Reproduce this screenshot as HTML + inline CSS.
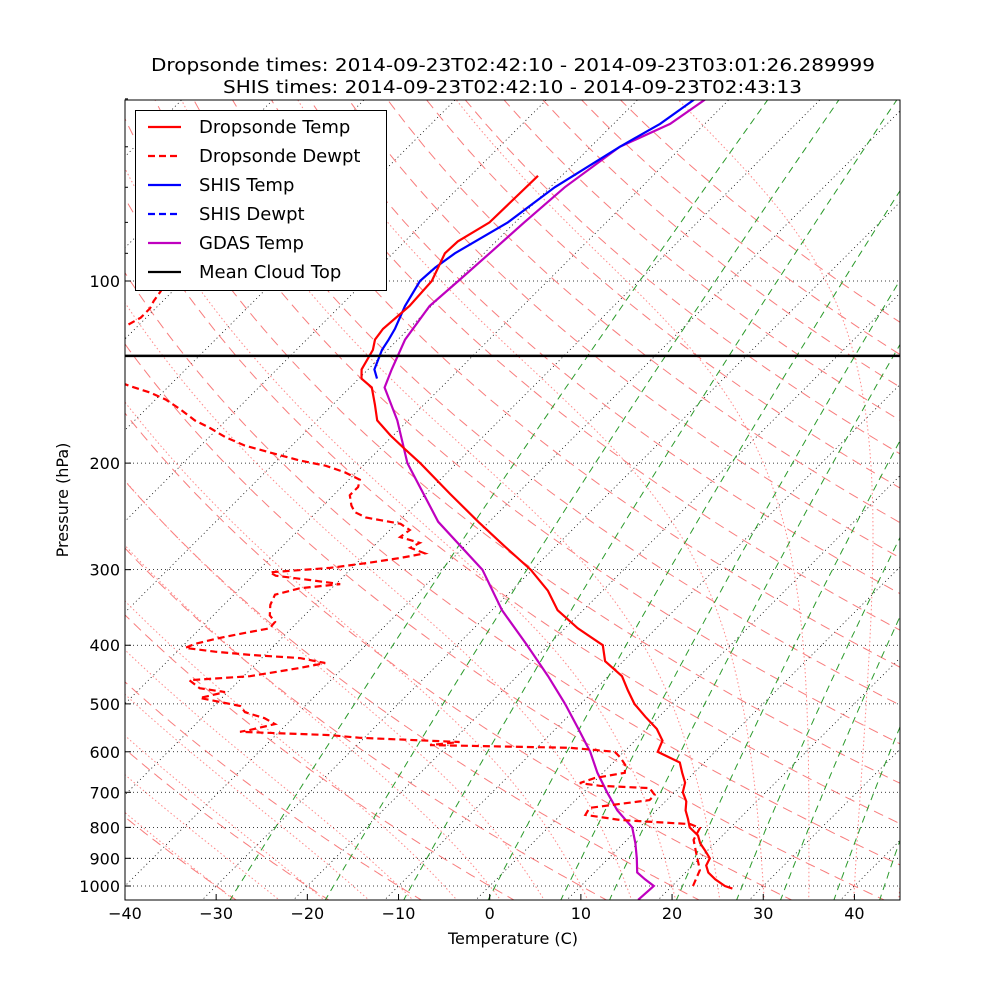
<!DOCTYPE html>
<html><head><meta charset="utf-8"><style>
body{margin:0;background:#fff;}
svg{display:block;font-family:"DejaVu Sans","Liberation Sans",sans-serif;}
</style></head><body>
<svg id="chart" width="1000" height="1000" viewBox="0 0 1000 1000">
<defs><clipPath id="clip"><rect x="125" y="100" width="775" height="800"/></clipPath></defs>
<rect width="1000" height="1000" fill="#fff"/>
<g id="bg" clip-path="url(#clip)"></g>
<g id="series" clip-path="url(#clip)"></g>
<rect x="125" y="100" width="775" height="800" fill="none" stroke="#000" stroke-width="1"/>
<g id="axes"></g>
<text x="151" y="71" font-size="18" textLength="724" lengthAdjust="spacingAndGlyphs">Dropsonde times: 2014-09-23T02:42:10 - 2014-09-23T03:01:26.289999</text>
<text x="223" y="93" font-size="18" textLength="579" lengthAdjust="spacingAndGlyphs">SHIS times: 2014-09-23T02:42:10 - 2014-09-23T02:43:13</text>
<text x="513" y="944" font-size="16" text-anchor="middle">Temperature (C)</text>
<text x="68" y="500" font-size="16" text-anchor="middle" transform="rotate(-90 68 500)">Pressure (hPa)</text>
<g id="legend"></g>
</svg>
<script>
const sondeP=[1010,1000,975,950,925,900,875,850,825,800,775,750,725,700,675,650,625,600,575,550,525,500,475,450,425,400,375,350,325,300,275,250,225,200,190,180,170,160,150,145,140,130,125,120,110,100,90,86,80,67];
const sondeT=[26.9,25.8,24.0,22.5,21.5,21.1,19.8,18.4,17.3,15.5,14.4,13.2,12.3,10.9,10.1,8.7,7.3,3.7,3.0,1.1,-1.5,-4.1,-6.3,-8.5,-12.0,-14.0,-18.6,-22.8,-26.0,-30.2,-35.5,-41.2,-47.3,-54.0,-57.1,-60.3,-63.4,-65.4,-67.6,-69.7,-70.7,-71.6,-72.5,-72.8,-72.4,-72.7,-74.3,-74.2,-72.8,-72.6];
const dewP=[1000,941,889,839,802,790,778,763,743,721,707,689,683,676,663,650,631,614,600,591,585,578,569,563,556,552,540,528,516,504,489,478,471,457,450,436,428,420,415,410,404,398,389,383,375,366,357,343,330,322,317,312,307,303,298,292,287,282,276,271,265,258,252,246,241,235,226,219,213,207,202,198,192,187,181,175,170,163,157,153,149,147,null,118,115,111,108,104,102];
const dewT=[22.3,21.3,19.3,17.3,16.7,15.2,7.1,2.7,2.4,8.1,8.1,6.8,1.1,-1.4,-0.3,2.4,1.6,0.3,-1.0,-6.3,-22.0,-19.1,-30.5,-34.1,-44.3,-43.4,-41.3,-43.1,-45.9,-47.1,-52.4,-50.3,-53.5,-55.5,-49.3,-44.7,-42.5,-45.8,-51.6,-55.8,-59.5,-58.9,-56.8,-55.0,-52.4,-52.5,-53.8,-54.9,-55.5,-53.5,-49.5,-53.3,-57.5,-58.5,-52.4,-48.6,-45.8,-43.6,-45.8,-45.3,-48.1,-47.8,-49.5,-54.0,-55.8,-56.9,-58.2,-58.2,-58.8,-61.3,-64.1,-67.5,-71.7,-75.2,-78.3,-80.9,-83.4,-86.2,-88.9,-91.3,-94.4,-95.8,null,-101.2,-100.6,-100.6,-101.0,-101.3,-101.9];
const shisP=[145,140,130,125,120,110,100,95,90,80,70,60,55,50];
const shisT=[-68.0,-69.3,-70.6,-71.0,-71.5,-72.9,-74.0,-73.8,-73.2,-70.8,-69.5,-66.8,-64.9,-63.8];
const gdasP=[1054,1000,975,950,900,850,800,750,700,650,600,550,500,450,400,350,300,250,200,170,150,140,125,110,100,90,80,70,60,55,50];
const gdasT=[17.8,18.0,16.3,14.7,13.1,11.3,9.2,5.7,2.6,-0.6,-3.7,-7.5,-11.7,-16.6,-22.3,-28.9,-35.5,-45.6,-55.4,-61.2,-66.2,-67.4,-69.2,-70.2,-69.8,-69.4,-69.0,-68.4,-66.8,-63.8,-62.6];
const cloudTopP=133;
const xTicks=[-40,-30,-20,-10,0,10,20,30,40];
const yTicks=[100,200,300,400,500,600,700,800,900,1000];

const NS="http://www.w3.org/2000/svg";
function yOf(p){return 886-605*Math.log10(1000/p);}
function xOf(T,p){return 489.7+T*9.118+(886-yOf(p));}
function mk(tag,attrs,parent){const e=document.createElementNS(NS,tag);for(const k in attrs)e.setAttribute(k,attrs[k]);parent.appendChild(e);return e;}
function pathFrom(P,T){let d="",pen=false;for(let i=0;i<P.length;i++){if(P[i]===null){pen=false;continue;}d+=(pen?"L":"M")+xOf(T[i],P[i]).toFixed(1)+","+yOf(P[i]).toFixed(1);pen=true;}return d;}
const bg=document.getElementById('bg'),ser=document.getElementById('series'),ax=document.getElementById('axes');
const pGrid=[];for(let p=1060;p>=45;p-=5)pGrid.push(p);
for(let t=-150;t<=50;t+=10){const e=mk('line',{x1:xOf(t,1060),y1:yOf(1060),x2:xOf(t,45),y2:yOf(45),stroke:'#000','stroke-width':0.8,'stroke-dasharray':'1,3'},bg);

}
yTicks.forEach(p=>{const e=mk('line',{x1:125,x2:900,y1:yOf(p),y2:yOf(p),stroke:'#000','stroke-width':0.8,'stroke-dasharray':'1,3'},bg);

});
for(let t0=-30;t0<=200;t0+=10){const th=t0+273.15;let d="";pGrid.forEach((p,i)=>{const T=th*Math.pow(p/1000,0.2857)-273.15;d+=(i?"L":"M")+xOf(T,p).toFixed(1)+","+yOf(p).toFixed(1);});
const e=mk('path',{d:d,fill:'none',stroke:'#f87c7c','stroke-width':1,'stroke-dasharray':'10,6'},bg);

}
function es(Tk){const t=Tk-273.15;return 6.112*Math.exp(17.67*t/(t+243.5));}
for(let t0=-30;t0<=45;t0+=5){let T,p;let pts=[];
let Tb=t0+273.15;for(let pp=1000;pp<1060;pp+=2){const rs=0.622*es(Tb)/(pp-es(Tb));const g=(287.04*Tb+2.501e6*rs)/(1005.7+2.501e6*2.501e6*rs*0.622/(287.04*Tb*Tb))/pp;Tb+=g*2;}
T=Tb;for(p=1060;p>=45;p-=2){pts.push([T-273.15,p]);const rs=0.622*es(T)/(p-es(T));const g=(287.04*T+2.501e6*rs)/(1005.7+2.501e6*2.501e6*rs*0.622/(287.04*T*T))/p;T-=g*2;}
let d="";pts.forEach((q,i)=>{d+=(i?"L":"M")+xOf(q[0],q[1]).toFixed(1)+","+yOf(q[1]).toFixed(1);});
const e=mk('path',{d:d,fill:'none',stroke:'#f88','stroke-width':1,'stroke-dasharray':'1.5,2.5'},bg);

}
[0.0004,0.001,0.002,0.004,0.007,0.01,0.016,0.024,0.032,0.045,0.06].forEach(w=>{let d="";pGrid.forEach((p,i)=>{const e=p*w/(0.622+w);const l=Math.log(e/6.112);const Td=243.5*l/(17.67-l);d+=(i?"L":"M")+xOf(Td,p).toFixed(1)+","+yOf(p).toFixed(1);});
const e=mk('path',{d:d,fill:'none',stroke:'#2a9a2a','stroke-width':1,'stroke-dasharray':'7,5'},bg);

});
let s;
s=mk('path',{d:pathFrom(gdasP,gdasT),fill:'none',stroke:'#bf00bf','stroke-width':2.2},ser);


s=mk('path',{d:pathFrom(shisP,shisT),fill:'none',stroke:'#0000ff','stroke-width':2.2},ser);


s=mk('path',{d:pathFrom(dewP,dewT),fill:'none',stroke:'#ff0000','stroke-width':2.2,'stroke-dasharray':'7,4'},ser);


s=mk('path',{d:pathFrom(sondeP,sondeT),fill:'none',stroke:'#ff0000','stroke-width':2.2},ser);


s=mk('line',{x1:125,x2:900,y1:yOf(cloudTopP),y2:yOf(cloudTopP),stroke:'#000','stroke-width':2.5},ser);


xTicks.forEach(t=>{const x=489.7+t*9.118;
let e=mk('line',{x1:x,x2:x,y1:900,y2:894,stroke:'#000'},ax);


e=mk('text',{x:x,y:919,'font-size':16,'text-anchor':'middle'},ax);e.textContent=(t<0?'\u2212'+(-t):t);

});
yTicks.forEach(p=>{const y=yOf(p);
let e=mk('line',{x1:125,x2:131,y1:y,y2:y,stroke:'#000'},ax);


e=mk('text',{x:120,y:y+6,'font-size':16,'text-anchor':'end'},ax);e.textContent=p;

});
[50,60,70,80,90].forEach(p=>{const y=yOf(p);
let e=mk('line',{x1:125,x2:128,y1:y,y2:y,stroke:'#000'},ax);

});
const lg=document.getElementById('legend');
let b=mk('rect',{x:135.5,y:110.5,width:251,height:180,fill:'#fff',stroke:'#000','stroke-width':1},lg);


const entries=[['Dropsonde Temp','#ff0000',''],['Dropsonde Dewpt','#ff0000','7,4'],['SHIS Temp','#0000ff',''],['SHIS Dewpt','#0000ff','7,4'],['GDAS Temp','#bf00bf',''],['Mean Cloud Top','#000','']];
entries.forEach((en,i)=>{const y=127+i*29;
const g=mk('g',{},lg);


const l=mk('line',{x1:148,x2:181,y1:y,y2:y,stroke:en[1],'stroke-width':2.2},g);if(en[2])l.setAttribute('stroke-dasharray',en[2]);
const t=mk('text',{x:199,y:y+6,'font-size':18},g);t.textContent=en[0];});
</script>
</body></html>
